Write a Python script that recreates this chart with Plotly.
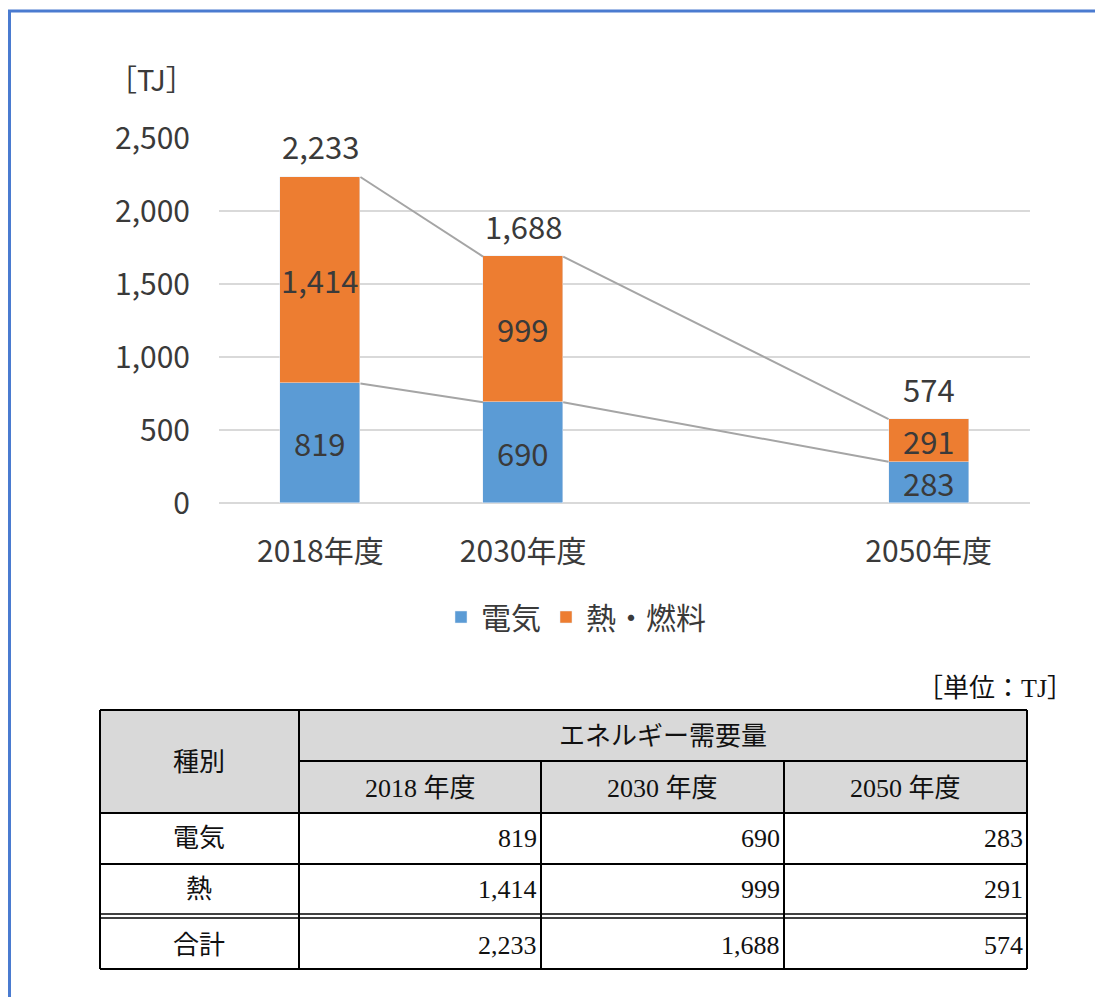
import plotly.graph_objects as go

# ---- data ----
categories = ["2018年度", "2030年度", "2050年度"]
cat_pos = [0, 1, 3]          # 2050 sits after an empty category slot
electricity = [819, 690, 283]
heat = [1414, 999, 291]
totals = [2233, 1688, 574]
series_names = ["電気", "熱・燃料"]
y_ticks = [0, 500, 1000, 1500, 2000, 2500]
table_years = ["2018 年度", "2030 年度", "2050 年度"]
table_rows = ["電気", "熱", "合計"]

OFF = 8                     # page body margin
W, H = 1103 - OFF, 997 - OFF
BLUE = "#5B9BD5"
ORANGE = "#ED7D31"
TXT = "#3A3A3A"
CJK = "Noto Sans CJK JP"
SERIF = "Liberation Serif, Noto Sans CJK JP"
bw = 0.395


def px(x):
    return (x - OFF) / W


def py(y):
    return 1 - (y - OFF) / H


def fmt(v):
    return f"{v:,}"


fig = go.Figure()
fig.add_trace(go.Bar(
    x=cat_pos, y=electricity, name=series_names[0], marker_color=BLUE,
    width=bw, text=[fmt(v) for v in electricity], textposition="inside",
    insidetextanchor="middle", textangle=0, constraintext="none",
    textfont=dict(family=CJK, size=31, color=TXT)))
fig.add_trace(go.Bar(
    x=cat_pos, y=heat, name=series_names[1], marker_color=ORANGE,
    width=bw, text=[fmt(v) for v in heat], textposition="inside",
    insidetextanchor="middle", textangle=0, constraintext="none",
    textfont=dict(family=CJK, size=31, color=TXT)))

# series connector lines
for vals in (electricity, totals):
    xs, ys = [], []
    for i in range(len(cat_pos) - 1):
        xs += [cat_pos[i] + bw / 2, cat_pos[i + 1] - bw / 2, None]
        ys += [vals[i], vals[i + 1], None]
    fig.add_trace(go.Scatter(x=xs, y=ys, mode="lines", showlegend=False,
                             line=dict(color="#A5A5A5", width=2), hoverinfo="skip"))

ann = []
shapes = []

# totals above bars
for xp, t in zip(cat_pos, totals):
    ann.append(dict(text=fmt(t), x=xp, y=t, xref="x", yref="y", showarrow=False,
                    xanchor="center", yanchor="middle", yshift=31,
                    font=dict(family=CJK, size=31, color=TXT)))

fig.update_layout(
    width=W, height=H, barmode="stack", bargap=0,
    margin=dict(l=0, r=0, t=0, b=0, autoexpand=False),
    paper_bgcolor="white", plot_bgcolor="white",
    font=dict(family=CJK, color=TXT),
    showlegend=True,
    legend=dict(orientation="h", x=px(576), xanchor="center", y=py(617),
                yanchor="middle", font=dict(family=CJK, size=30, color=TXT),
                traceorder="normal", itemwidth=30),
    xaxis=dict(domain=[px(219), px(1030)], range=[-0.5, 3.5],
               tickvals=cat_pos, ticktext=categories, showgrid=False,
               zeroline=False, showline=False, ticks="",
               ticklabelstandoff=28,
               tickfont=dict(family=CJK, size=30, color=TXT)),
    yaxis=dict(domain=[py(503), py(138)], range=[0, 2500],
               tickvals=y_ticks, tickformat=",d", showgrid=True,
               gridcolor="#D9D9D9", gridwidth=2, zeroline=True,
               zerolinecolor="#D9D9D9", zerolinewidth=2, ticks="",
               ticklabelstandoff=28,
               tickfont=dict(family=CJK, size=30, color=TXT)),
)

ann.append(dict(text="［TJ］", x=px(151), y=py(78), xref="paper", yref="paper",
                xanchor="center", yanchor="middle",
                showarrow=False, font=dict(family=CJK, size=29, color=TXT)))

# ---- table ----
cols = [100, 299, 541, 784, 1027]
r_top, r_mid, r_head, r1, r2a, r2b, r3 = 710, 761, 813, 864, 914, 918, 969
shapes.append(dict(type="rect", xref="paper", yref="paper", x0=px(100), x1=px(1027),
                   y0=py(r_top), y1=py(r_head), fillcolor="#D9D9D9", line_width=0, layer="below"))
LC = "black"


def hline(y, x0, x1, w=2):
    shapes.append(dict(type="line", xref="paper", yref="paper", x0=px(x0), x1=px(x1),
                       y0=py(y), y1=py(y), line=dict(color=LC, width=w)))


def vline(x, y0, y1, w=2):
    shapes.append(dict(type="line", xref="paper", yref="paper", x0=px(x), x1=px(x),
                       y0=py(y0), y1=py(y1), line=dict(color=LC, width=w)))


hline(r_top, 100, 1027)
hline(r_mid, 299, 1027)
hline(r_head, 100, 1027)
hline(r1, 100, 1027)
hline(r2a, 100, 1027, 1.5)
hline(r2b, 100, 1027, 1.5)
hline(r3, 100, 1027)
vline(100, r_top, r3)
vline(299, r_top, r3)
vline(1027, r_top, r3)
vline(541, r_mid, r3)
vline(784, r_mid, r3)

TF = dict(family=SERIF, size=26, color="#111111")


def tann(text, x, y, xa="center"):
    ann.append(dict(text=text, x=px(x), y=py(y), xref="paper", yref="paper",
                    xanchor=xa, yanchor="middle", showarrow=False, font=TF))


tann("［単位：TJ］", 1075, 688, "right")
tann("種別", 199, 762)
tann("エネルギー需要量", 663, 736)
for i, yr in enumerate(table_years):
    tann(yr, (cols[i + 1] + cols[i + 2]) / 2, 788)
row_y = [838, 889, 945]
row_vals = [electricity, heat, totals]
for r, name in enumerate(table_rows):
    tann(name, 199, row_y[r])
    for i, v in enumerate(row_vals[r]):
        tann(fmt(v), cols[i + 2] - 2, row_y[r], "right")

# outer blue frame
shapes.append(dict(type="rect", xref="paper", yref="paper", x0=px(9.5), x1=px(1120),
                   y0=py(1020), y1=py(11), line=dict(color="#4A7BD0", width=3)))

fig.update_layout(annotations=ann, shapes=shapes)
fig.write_html("out.html")
